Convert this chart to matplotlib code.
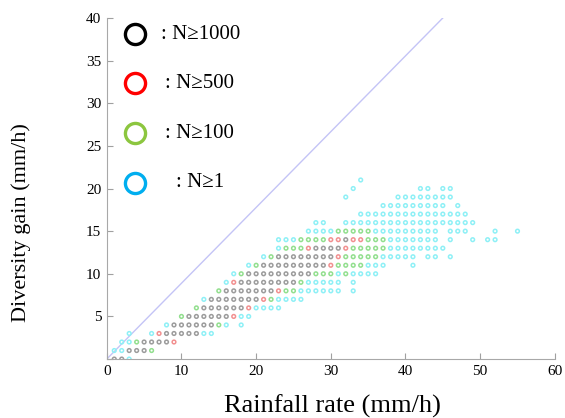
import numpy as np
import matplotlib
matplotlib.use('Agg')
import matplotlib.pyplot as plt

plt.rcParams['font.family'] = ['Liberation Serif', 'DejaVu Serif']

# Grid of (rainfall rate, diversity gain) cells, one string per gain level.
# K: N>=1000, R: N>=500, G: N>=100, C: N>=1, '.': empty
gain_levels = list(range(0, 22))
row_first_rate = [1, 1, 2, 3, 8, 10, 12, 13, 15, 16, 17, 19, 21, 23, 23, 27, 28, 34, 37, 32, 33, 34]
row_classes = [
    "KKC",
    "CCKKKG",
    "CCGKKKKR",
    "C..CRKKKKKCC",
    "CKKKKKKGC.C",
    "GKKKKKKRCC",
    "GKKKKKKRCCCC",
    "CKKKKKKKRGCCCC",
    "GKKKKKKKRGGCCCCCC.C",
    "CRKKKKKKKKGCCCCC.C",
    "CGKKKKKKKKKGGGCGCCCC",
    "CGKKKKKKKKKRGGGGCCC...C",
    "CGKKKKKKKKRGGGGGCCCCC.CC.C",
    "CGGGRKKKKRGGGGGCCCCCCCC",
    "CCCGGGGRRKRRGGGCCCCCCC.C..C.CC",
    "CCCCGGGGGCCCCCCCCC.CCC...C..C",
    "CC..CCCCCCCCCCCCCCCCCC",
    "CCCCCCCCCCCCCCC",
    "CCCCCCCCC.C",
    "C......CCCCCCCC",
    "C........CC.CC",
    "C",
]

classes = ['K', 'R', 'G', 'C']
class_labels = [': N≥1000', ': N≥500', ': N≥100', ': N≥1']
dot_colors = ['#9c9c9c', '#f29090', '#92df8e', '#8ef0f6']
legend_colors = ['#000000', '#ff0000', '#8cc63f', '#00aeef']

# unpack the grid into x/y lists per class
points = {c: ([], []) for c in classes}
for gain, start, codes in zip(gain_levels, row_first_rate, row_classes):
    for i, c in enumerate(codes):
        if c in points:
            points[c][0].append(start + i)
            points[c][1].append(gain)

fig = plt.figure(figsize=(5.65, 4.18), dpi=100)
ax = fig.add_axes([0.189, 0.141, 0.793, 0.816])

ax.plot([0, 45], [0, 40], color='#c4c4f6', lw=1.0, zorder=1)

for c, col in zip(classes, dot_colors):
    xs, ys = points[c]
    ax.scatter(xs, ys, s=7, facecolors='none', edgecolors=col, linewidths=1.1, zorder=2)

# hand-made legend
marker_y = [0.952, 0.808, 0.662, 0.517]
text_x = [0.12, 0.129, 0.129, 0.154]
for lab, col, my, tx in zip(class_labels, legend_colors, marker_y, text_x):
    ax.plot([0.0625], [my], 'o', ms=14.5, mfc='none', mec=col, mew=2.4,
            transform=ax.transAxes, clip_on=False)
    ax.text(tx, my, lab, transform=ax.transAxes, fontsize=15, va='center', ha='left')

ax.set_xlim(0, 60)
ax.set_ylim(0, 40)
ax.set_xticks(range(0, 61, 10))
ax.set_yticks(range(0, 41, 5))
ax.set_yticklabels([''] + [str(v) for v in range(5, 41, 5)])
ax.tick_params(direction='in', length=4, color='#a0a0a0', labelsize=11, pad=4)

for s in ['top', 'right']:
    ax.spines[s].set_visible(False)
for s in ['left', 'bottom']:
    ax.spines[s].set_color('#a8a8a8')

ax.set_xlabel('Rainfall rate (mm/h)', fontsize=19)
ax.set_ylabel('Diversity gain (mm/h)', fontsize=16)
ax.xaxis.set_label_coords(0.503, -0.103)
ax.yaxis.set_label_coords(-0.17, 0.40)

fig.savefig('out.png', dpi=100)
